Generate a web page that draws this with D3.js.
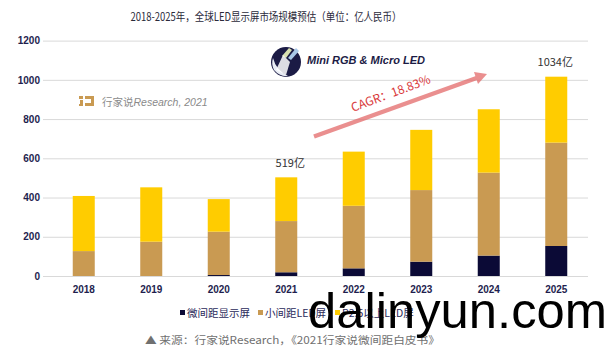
<!DOCTYPE html>
<html><head><meta charset="utf-8">
<script src="https://cdn.jsdelivr.net/npm/d3@7"></script>
<style>
html,body{margin:0;padding:0;background:#fff;}
svg{display:block;}
</style></head>
<body>
<svg id="c" width="608" height="359"></svg>
<script>
const years = ["2018","2019","2020","2021","2022","2023","2024","2025"];
const microPitch = [0, 0, 5, 19, 39, 73, 104, 153];
const smallPitch = [127, 175, 221, 261, 319, 365, 423, 527];
const largePitch = [281, 277, 166, 223, 276, 307, 323, 336];
const seriesNames = ["微间距显示屏", "小间距LED屏", "P2.5以上LED屏"];
const seriesColors = ["#0b0a36", "#c99a52", "#ffcc00"];
const yTicks = [0, 200, 400, 600, 800, 1000, 1200];
const titleText = "2018-2025年，全球LED显示屏市场规模预估（单位：亿人民币）";
const annotations = [{year:"2021", value:519, text:"519亿", dy:-10, dx:4}, {year:"2025", value:1034, text:"1034亿", dy:-11, dx:-1}];
const cagrText = "CAGR：18.83%";

const svg = d3.select("#c");
const cjk = "'Noto Sans CJK SC','Noto Sans',sans-serif";
const latin = "'Liberation Sans',Arial,'Noto Sans CJK SC',sans-serif";

const x = d3.scaleBand().domain(years).range([50, 590]).paddingInner(0.674).paddingOuter(0.337);
const y = d3.scaleLinear().domain([0, 1200]).range([276, 40.6]);

// grid + y axis
const yAxis = svg.append("g").attr("transform","translate(43,0)")
  .call(d3.axisLeft(y).tickValues(yTicks).tickSize(-545).tickPadding(4).tickFormat(d3.format("d")));
yAxis.select(".domain").remove();
yAxis.selectAll(".tick line").attr("stroke","#d9d9d9").attr("stroke-width",1);
yAxis.selectAll(".tick text").attr("fill","#1e1e4e").attr("font-family",latin)
  .attr("font-weight","bold").attr("font-size",10).attr("x",-3);

// watermark logo 行家说Research
const lg = svg.append("g");
lg.append("path").attr("d","M79,96 h4 v3 h-4z M80,100 h3 v6 h-4 v-2 h1z").attr("fill","#c99a52");
lg.append("path").attr("d","M85,96 h9 v10 h-9 v-3 h6 v-4 h-6z").attr("fill","#c99a52");
lg.append("text").attr("x",102).attr("y",106).attr("font-size",10.5).attr("fill","#8a8a8a")
  .attr("font-family",cjk).text("行家说")
  .append("tspan").attr("font-family",latin).attr("font-style","italic").text("Research, 2021");

// stacked bars
const rows = years.map((yr,i)=>({year:yr, micro:microPitch[i], small:smallPitch[i], large:largePitch[i]}));
const stack = d3.stack().keys(["micro","small","large"])(rows);
svg.append("g").selectAll("g").data(stack).join("g")
  .attr("fill",(d,i)=>seriesColors[i])
  .selectAll("rect").data(d=>d).join("rect")
  .attr("x",d=>x(d.data.year)).attr("width",x.bandwidth())
  .attr("y",d=>y(d[1])).attr("height",d=>Math.max(0,y(d[0])-y(d[1])));

// x labels
const xAxis = svg.append("g").attr("transform","translate(0,276)")
  .call(d3.axisBottom(x).tickSize(0).tickPadding(10));
xAxis.select(".domain").remove();
xAxis.selectAll(".tick text").attr("fill","#1e1e4e").attr("font-family",latin)
  .attr("font-weight","bold").attr("font-size",10);

// title
svg.append("text").attr("x",266).attr("y",21).attr("text-anchor","middle")
  .attr("font-family",cjk).attr("font-size",11.5).attr("fill","#2a2a3a")
  .attr("textLength",271).attr("lengthAdjust","spacingAndGlyphs").text(titleText);

// value annotations
const tops = years.map((yr,i)=>microPitch[i]+smallPitch[i]+largePitch[i]);
annotations.forEach(a=>{
  const i = years.indexOf(a.year);
  svg.append("text").attr("x",x(a.year)+x.bandwidth()/2+a.dx).attr("y",y(tops[i])+a.dy)
    .attr("text-anchor","middle").attr("font-family",cjk).attr("font-size",11).attr("fill","#333")
    .text(a.text);
});

// Mini RGB logo
const ml = svg.append("g");
ml.append("circle").attr("cx",286).attr("cy",62).attr("r",15).attr("fill","#1b1b45");
ml.append("path").attr("d","M273,58 Q276,70 288,76 Q280,77 274,70 Q271,64 273,58z").attr("fill","#e8ecf4");
ml.append("path").attr("d","M282,56 L289,48 L292,50 L286,58z").attr("fill","#d8e0b0");
ml.append("path").attr("d","M288,58 L296,48 L299,51 L291,60z").attr("fill","#a9c8e8");
ml.append("path").attr("d","M276,70 L283,55 L290,62 L286,75z").attr("fill","#ffffff").attr("opacity",0.85);
svg.append("text").attr("x",307).attr("y",64).attr("font-family",latin).attr("font-weight","bold")
  .attr("font-style","italic").attr("font-size",11).attr("fill","#1b1b45").text("Mini RGB & Micro LED");

// CAGR arrow
const ag = svg.append("g").attr("opacity",0.75);
ag.append("line").attr("x1",314).attr("y1",136.5).attr("x2",478).attr("y2",77.5)
  .attr("stroke","#e36a6a").attr("stroke-width",4.5);
ag.append("path").attr("d","M487,74 L474,72 L478,84z").attr("fill","#e36a6a");
svg.append("text").attr("transform","translate(353,112) rotate(-20.5)")
  .attr("font-family",cjk).attr("font-size",12).attr("fill","#d9383a").text(cagrText);

// legend
const legX = [180, 258, 335];
const lgd = svg.append("g");
seriesNames.forEach((n,i)=>{
  lgd.append("rect").attr("x",legX[i]).attr("y",310).attr("width",5).attr("height",5).attr("fill",seriesColors[i]);
  lgd.append("text").attr("x",legX[i]+7).attr("y",316.5).attr("font-family",cjk).attr("font-size",10.5)
    .attr("fill","#2a2a5a").text(n);
});

// source
svg.append("text").attr("x",145).attr("y",344).attr("font-family",cjk).attr("font-size",10.5)
  .attr("fill","#707070").attr("textLength",295).attr("lengthAdjust","spacingAndGlyphs")
  .text("▲ 来源：行家说Research，《2021行家说微间距白皮书》");

// site watermark
svg.append("text").attr("x",308).attr("y",328).attr("font-family",latin).attr("font-size",50)
  .attr("fill","#000").attr("textLength",299).attr("lengthAdjust","spacingAndGlyphs").text("dalinyun.com");
</script>
</body></html>
